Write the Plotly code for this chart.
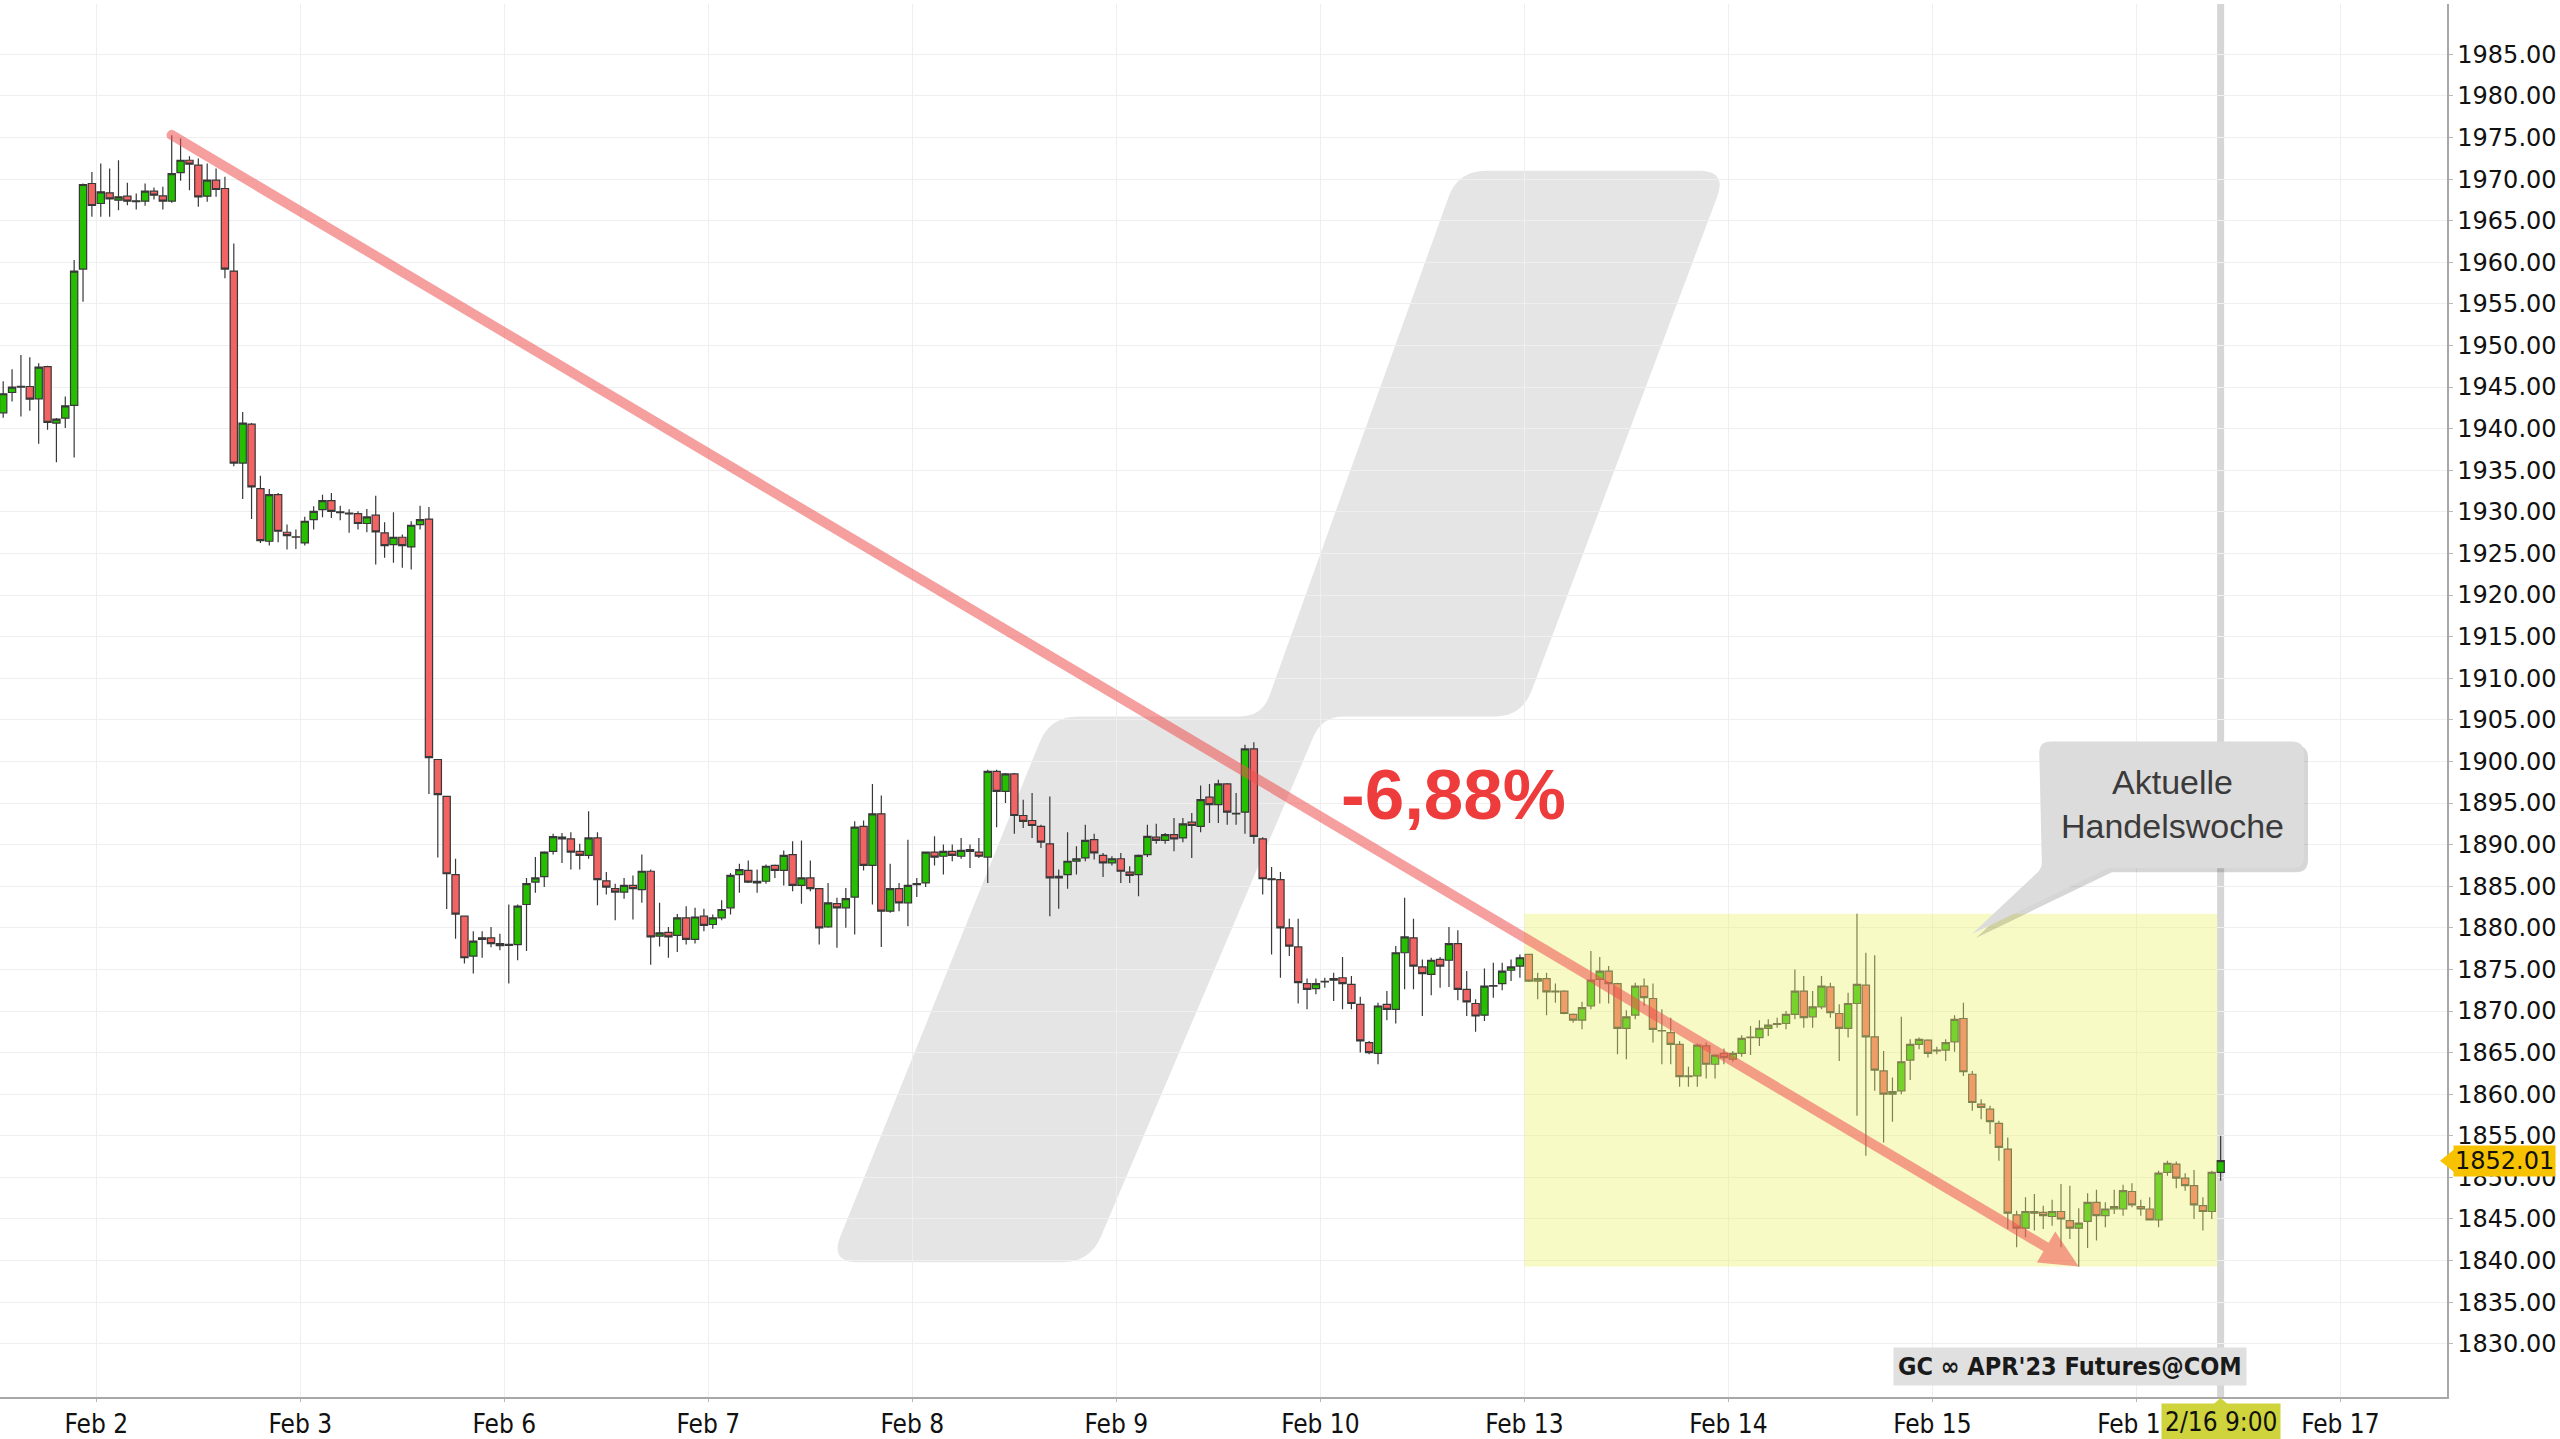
import math
import plotly.graph_objects as go

# ---------------- data: GC APR'23, hourly candles (CET) ----------------
DAY_LABELS = ["Feb 2", "Feb 3", "Feb 6", "Feb 7", "Feb 8", "Feb 9",
              "Feb 10", "Feb 13", "Feb 14", "Feb 15", "Feb 16", "Feb 17"]
HOURS_PER_SESSION = 23

# rows: [open, high, low, close]
feb01 = [  # 12:00 .. 22:00
    [1941.9, 1945.7, 1941.3, 1944.2], [1944.35, 1947.15, 1943.27, 1944.99],
    [1945.0, 1948.87, 1941.47, 1945.1], [1945.07, 1948.6, 1942.15, 1943.55],
    [1943.59, 1947.87, 1938.19, 1947.39], [1947.47, 1947.55, 1939.87, 1940.75],
    [1940.67, 1941.27, 1935.95, 1941.15], [1941.27, 1943.87, 1940.07, 1942.75],
    [1942.79, 1960.27, 1936.55, 1958.95], [1959.19, 1969.47, 1955.27, 1969.35],
    [1969.47, 1970.87, 1965.47, 1966.83]]
feb02 = [
    [1967.07, 1971.87, 1965.47, 1968.47], [1968.35, 1971.27, 1965.47, 1967.63],
    [1967.47, 1972.27, 1966.27, 1967.87], [1967.95, 1969.55, 1966.87, 1967.35],
    [1967.3, 1968.27, 1966.35, 1967.4], [1967.35, 1969.47, 1966.8, 1968.55],
    [1968.55, 1969.0, 1967.55, 1968.07], [1967.99, 1969.07, 1966.35, 1967.35],
    [1967.35, 1975.27, 1967.15, 1970.67], [1970.79, 1974.87, 1969.79, 1972.27],
    [1972.27, 1972.75, 1968.67, 1971.79], [1971.67, 1972.47, 1966.67, 1967.87],
    [1967.95, 1971.87, 1967.27, 1969.87], [1969.87, 1971.27, 1967.87, 1968.75],
    [1968.87, 1970.27, 1958.07, 1959.19], [1958.95, 1962.27, 1935.47, 1935.87],
    [1935.87, 1942.0, 1931.55, 1940.67], [1940.55, 1940.67, 1929.15, 1933.0],
    [1932.8, 1934.35, 1926.27, 1926.55], [1926.47, 1932.75, 1925.95, 1932.07],
    [1932.07, 1932.27, 1926.35, 1927.67], [1927.55, 1928.47, 1925.47, 1927.15],
    [1927.0, 1927.87, 1925.55, 1926.95]]
feb03 = [
    [1926.27, 1929.4, 1925.95, 1928.87], [1929.07, 1930.67, 1927.87, 1930.07],
    [1930.27, 1932.07, 1929.35, 1931.35], [1931.35, 1932.27, 1929.27, 1930.07],
    [1930.0, 1930.75, 1929.0, 1929.9], [1929.85, 1930.3, 1927.5, 1929.75],
    [1929.79, 1930.07, 1927.87, 1928.6], [1928.6, 1930.35, 1927.55, 1929.39],
    [1929.6, 1931.95, 1923.67, 1927.6], [1927.47, 1928.75, 1924.47, 1925.95],
    [1926.07, 1929.95, 1923.87, 1926.95], [1926.95, 1927.27, 1923.27, 1925.95],
    [1925.79, 1928.87, 1923.07, 1928.39], [1928.47, 1930.75, 1927.87, 1929.07],
    [1929.13, 1930.6, 1896.1, 1900.46], [1900.23, 1900.3, 1888.44, 1896.0],
    [1895.8, 1895.8, 1882.25, 1886.5], [1886.4, 1888.3, 1878.7, 1881.65],
    [1881.4, 1881.4, 1875.7, 1876.4], [1876.6, 1879.6, 1874.5, 1878.4],
    [1878.6, 1879.6, 1876.4, 1878.8], [1878.8, 1880.1, 1877.65, 1878.1],
    [1878.1, 1879.3, 1877.3, 1877.85]]
feb06 = [
    [1878.0, 1882.8, 1873.3, 1877.9], [1877.98, 1882.8, 1876.1, 1882.6],
    [1882.8, 1886.0, 1877.2, 1885.3], [1885.5, 1888.5, 1884.2, 1886.0],
    [1886.15, 1889.2, 1884.9, 1889.1], [1889.2, 1891.3, 1888.8, 1890.96],
    [1890.9, 1891.4, 1887.8, 1890.7], [1890.7, 1891.5, 1887.0, 1889.1],
    [1889.2, 1890.1, 1887.0, 1888.7], [1888.7, 1894.0, 1888.3, 1890.8],
    [1890.8, 1891.5, 1882.7, 1885.8], [1885.65, 1886.7, 1884.0, 1884.9],
    [1884.7, 1885.3, 1880.9, 1884.3], [1884.3, 1886.0, 1883.5, 1885.1],
    [1885.1, 1886.3, 1881.0, 1884.7], [1884.6, 1888.8, 1883.0, 1886.8],
    [1886.8, 1887.0, 1875.55, 1878.9], [1879.0, 1883.0, 1877.75, 1879.4],
    [1879.45, 1880.1, 1876.4, 1878.9], [1879.1, 1881.65, 1877.1, 1881.2],
    [1881.2, 1882.6, 1878.0, 1878.6], [1878.6, 1882.4, 1878.1, 1881.3],
    [1881.4, 1882.3, 1879.6, 1880.3]]
feb07 = [
    [1880.4, 1881.6, 1879.9, 1881.2], [1881.2, 1883.3, 1880.9, 1882.2],
    [1882.4, 1886.6, 1881.6, 1886.3], [1886.4, 1887.7, 1884.2, 1887.0],
    [1886.9, 1888.1, 1885.4, 1885.5], [1885.6, 1887.0, 1884.2, 1885.4],
    [1885.6, 1887.6, 1885.3, 1887.4], [1887.5, 1887.6, 1886.0, 1886.9],
    [1886.9, 1889.3, 1885.1, 1888.7], [1888.8, 1890.4, 1884.4, 1885.1],
    [1885.1, 1890.5, 1882.9, 1886.0], [1886.0, 1888.1, 1884.4, 1884.7],
    [1884.7, 1884.8, 1878.0, 1880.0], [1880.1, 1885.4, 1880.0, 1883.0],
    [1882.9, 1883.6, 1877.6, 1882.4], [1882.4, 1884.8, 1880.0, 1883.5],
    [1883.7, 1892.8, 1879.2, 1892.1], [1892.2, 1892.9, 1886.9, 1887.5],
    [1887.5, 1897.3, 1882.8, 1893.7], [1893.7, 1895.9, 1877.7, 1882.0],
    [1882.0, 1887.7, 1881.8, 1884.7], [1884.7, 1885.4, 1882.0, 1883.0],
    [1883.0, 1890.6, 1880.2, 1885.1]]
feb08 = [
    [1885.2, 1886.0, 1883.7, 1885.3], [1885.4, 1889.1, 1884.9, 1889.1],
    [1889.1, 1891.0, 1887.5, 1888.5], [1888.6, 1890.0, 1886.4, 1889.2],
    [1889.2, 1890.0, 1888.0, 1888.7], [1888.6, 1890.8, 1888.3, 1889.3],
    [1889.4, 1890.0, 1887.2, 1889.2], [1889.1, 1890.8, 1888.4, 1888.6],
    [1888.5, 1899.0, 1885.4, 1898.8], [1898.8, 1899.0, 1892.1, 1896.4],
    [1896.4, 1898.6, 1895.0, 1898.5], [1898.5, 1898.6, 1891.3, 1893.5],
    [1893.5, 1895.4, 1892.0, 1892.8], [1892.9, 1896.2, 1890.8, 1892.3],
    [1892.2, 1892.4, 1889.6, 1890.3], [1890.1, 1895.8, 1881.4, 1886.0],
    [1886.0, 1887.0, 1882.3, 1886.2], [1886.4, 1891.5, 1884.7, 1888.0],
    [1888.0, 1889.8, 1886.4, 1888.3], [1888.4, 1892.4, 1888.0, 1890.5],
    [1890.6, 1891.3, 1888.2, 1889.0], [1888.7, 1889.0, 1886.1, 1887.8],
    [1887.8, 1888.6, 1887.5, 1888.3]]
feb09 = [
    [1888.3, 1889.0, 1885.4, 1886.8], [1886.7, 1887.4, 1885.4, 1886.3],
    [1886.4, 1888.8, 1883.8, 1888.7], [1888.8, 1892.4, 1888.5, 1891.0],
    [1890.9, 1892.5, 1890.1, 1890.5], [1890.5, 1891.4, 1890.1, 1891.2],
    [1891.2, 1893.2, 1889.2, 1890.7], [1890.8, 1893.2, 1890.3, 1892.5],
    [1892.7, 1893.8, 1888.4, 1892.3], [1892.2, 1897.1, 1891.5, 1895.4],
    [1895.7, 1897.3, 1892.6, 1894.8], [1894.8, 1897.8, 1892.6, 1897.3],
    [1897.3, 1897.4, 1892.4, 1893.9], [1893.7, 1896.2, 1892.4, 1893.75],
    [1893.9, 1902.0, 1891.3, 1901.5], [1901.5, 1902.3, 1890.1, 1891.0],
    [1890.7, 1890.9, 1884.0, 1885.9], [1885.8, 1887.3, 1876.8, 1885.9],
    [1885.8, 1886.7, 1874.0, 1880.0], [1880.0, 1881.1, 1876.6, 1877.8],
    [1877.7, 1881.1, 1870.9, 1873.4], [1873.3, 1873.9, 1870.2, 1872.6],
    [1872.7, 1873.9, 1872.0, 1873.3]]
feb10 = [
    [1873.5, 1874.0, 1872.8, 1873.55], [1873.7, 1874.6, 1871.2, 1873.9],
    [1874.0, 1876.5, 1870.2, 1873.3], [1873.2, 1874.2, 1870.2, 1870.9],
    [1870.8, 1871.7, 1865.0, 1866.4], [1866.2, 1866.4, 1864.8, 1865.0],
    [1864.9, 1871.0, 1863.6, 1870.6], [1870.8, 1872.4, 1868.9, 1870.2],
    [1870.2, 1877.8, 1868.5, 1877.0], [1877.0, 1883.6, 1872.6, 1878.9],
    [1878.8, 1881.1, 1872.6, 1875.4], [1875.3, 1876.2, 1869.4, 1874.5],
    [1874.4, 1876.4, 1871.9, 1876.1], [1876.2, 1876.5, 1872.8, 1875.4],
    [1876.1, 1880.1, 1872.9, 1878.1], [1878.1, 1879.7, 1871.3, 1872.6],
    [1872.6, 1874.8, 1869.4, 1871.1], [1870.9, 1871.4, 1867.5, 1869.4],
    [1869.5, 1875.1, 1868.8, 1873.0], [1873.0, 1875.8, 1871.6, 1873.05],
    [1873.3, 1875.8, 1872.5, 1874.8], [1874.9, 1876.2, 1873.6, 1875.3],
    [1875.4, 1876.8, 1874.0, 1876.4]]
feb13 = [
    [1876.8, 1876.8, 1873.5, 1873.6], [1873.6, 1874.6, 1871.4, 1873.9],
    [1873.9, 1874.6, 1869.5, 1872.3], [1872.3, 1873.3, 1871.0, 1872.4],
    [1872.4, 1872.5, 1869.6, 1869.7], [1869.6, 1869.7, 1868.6, 1868.9],
    [1868.9, 1871.1, 1867.8, 1870.4], [1870.6, 1877.2, 1870.2, 1873.7],
    [1873.8, 1876.5, 1870.9, 1874.8], [1874.8, 1875.4, 1870.9, 1873.3],
    [1873.3, 1873.4, 1864.8, 1867.9], [1867.9, 1870.1, 1864.2, 1869.3],
    [1869.5, 1873.4, 1869.0, 1873.0], [1873.0, 1873.9, 1870.6, 1871.6],
    [1871.5, 1873.3, 1866.2, 1867.8], [1867.6, 1870.2, 1863.6, 1867.65],
    [1867.4, 1869.2, 1863.6, 1866.0], [1866.0, 1866.4, 1860.9, 1862.1],
    [1862.1, 1863.3, 1860.9, 1862.2], [1862.2, 1866.1, 1860.9, 1865.9],
    [1865.8, 1866.2, 1861.9, 1863.6], [1863.6, 1864.8, 1861.9, 1864.7],
    [1864.9, 1865.5, 1863.6, 1864.4]]
feb14 = [
    [1864.2, 1865.2, 1863.9, 1864.9], [1864.9, 1867.1, 1864.5, 1866.7],
    [1866.8, 1868.2, 1864.7, 1866.85], [1866.8, 1868.9, 1865.8, 1867.9],
    [1867.9, 1869.0, 1867.0, 1868.3], [1868.5, 1869.2, 1868.0, 1868.4],
    [1868.5, 1870.0, 1867.8, 1869.6], [1869.6, 1875.0, 1869.0, 1872.4],
    [1872.4, 1874.2, 1868.0, 1869.2], [1869.3, 1872.4, 1868.0, 1870.5],
    [1870.5, 1874.2, 1870.2, 1873.0], [1872.9, 1873.4, 1869.2, 1869.8],
    [1869.7, 1870.8, 1864.0, 1867.9], [1867.9, 1872.2, 1866.8, 1870.9],
    [1870.9, 1881.7, 1857.4, 1873.2], [1873.1, 1877.0, 1852.6, 1866.9],
    [1866.9, 1876.7, 1860.4, 1862.9], [1862.8, 1865.2, 1854.2, 1860.0],
    [1860.0, 1862.0, 1856.7, 1860.3], [1860.4, 1869.3, 1860.0, 1863.9],
    [1864.1, 1866.6, 1861.7, 1866.0], [1866.0, 1866.8, 1865.4, 1866.6],
    [1866.5, 1866.6, 1864.4, 1864.9]]
feb15 = [
    [1865.2, 1865.7, 1864.8, 1865.3], [1865.3, 1866.6, 1864.0, 1866.2],
    [1866.3, 1869.5, 1865.1, 1869.0], [1869.1, 1871.0, 1862.2, 1862.7],
    [1862.4, 1862.8, 1858.0, 1859.0], [1858.8, 1859.4, 1857.0, 1858.4],
    [1858.2, 1858.6, 1855.2, 1856.7], [1856.5, 1856.8, 1852.0, 1853.6],
    [1853.4, 1854.8, 1843.8, 1845.7], [1845.5, 1846.0, 1841.6, 1843.9],
    [1843.9, 1847.6, 1842.8, 1845.9], [1845.9, 1848.0, 1843.6, 1845.7],
    [1845.8, 1846.6, 1843.8, 1845.4], [1845.3, 1847.3, 1844.2, 1845.9],
    [1845.9, 1849.2, 1841.6, 1845.0], [1844.8, 1849.0, 1842.6, 1843.9],
    [1843.9, 1846.3, 1839.3, 1844.5], [1844.7, 1848.1, 1841.5, 1847.0],
    [1847.0, 1848.5, 1842.4, 1845.4], [1845.4, 1847.0, 1844.0, 1846.2],
    [1846.2, 1848.5, 1845.6, 1846.5], [1846.2, 1849.1, 1845.4, 1848.4],
    [1848.3, 1849.3, 1846.4, 1846.7]]
feb16 = [  # 00:00 .. 09:00
    [1846.5, 1847.3, 1845.4, 1846.2], [1846.2, 1847.6, 1844.9, 1844.9],
    [1844.9, 1850.8, 1844.0, 1850.5], [1850.6, 1852.0, 1850.2, 1851.7],
    [1851.6, 1851.9, 1848.7, 1849.9], [1849.9, 1850.5, 1848.4, 1849.0],
    [1849.0, 1850.9, 1845.0, 1846.7], [1846.6, 1847.6, 1843.6, 1845.9],
    [1845.9, 1850.8, 1845.0, 1850.6], [1850.6, 1855.0, 1849.6, 1852.01]]

# (session index, first hour, rows)
SESSIONS = [(-1, 12, feb01), (0, 0, feb02), (1, 0, feb03), (2, 0, feb06),
            (3, 0, feb07), (4, 0, feb08), (5, 0, feb09), (6, 0, feb10),
            (7, 0, feb13), (8, 0, feb14), (9, 0, feb15), (10, 0, feb16)]
WEEK_SESSIONS = [feb13, feb14, feb15, feb16]
CHANGE_TEXT = "-6,88%"
LAST_PRICE = feb16[-1][3]
TREND_START = (8.5, 1975.3)     # high Feb 2, 08:00
TREND_END = (223.5, 1839.3)     # low Feb 15, 16:00

# ---------------- build candle series ----------------
xs, op, hi, lo, cl = [], [], [], [], []
for d, h0, rows in SESSIONS:
    for i, (o, h, l, c) in enumerate(rows):
        xs.append(HOURS_PER_SESSION * d + h0 + i + 0.5)
        op.append(o); hi.append(h); lo.append(l); cl.append(c)
NOW_X = xs[-1]

# ---------------- geometry helpers ----------------
W, H = 2560, 1439
PL, PR, PT, PB = 0, 2447, 4, 1400
XR = (-10.86, 265.02)
YR = (1823.6, 1991.05)


def d2p(x, y):
    xp = PL + (x - XR[0]) / (XR[1] - XR[0]) * (PR - PL)
    yp = PB - (y - YR[0]) / (YR[1] - YR[0]) * (PB - PT)
    return xp, yp


def p2d(xp, yp):
    x = XR[0] + (xp - PL) / (PR - PL) * (XR[1] - XR[0])
    y = YR[0] + (PB - yp) / (PB - PT) * (YR[1] - YR[0])
    return x, y


def p2paper(xp, yp):
    return (xp - PL) / (PR - PL), (PB - yp) / (PB - PT)


def fmt(pt):
    return f"{pt[0]:.5f},{pt[1]:.5f}"


def rounded_path(pts, radii, conv):
    n = len(pts)
    segs = []
    for i in range(n):
        P, V, N = pts[i - 1], pts[i], pts[(i + 1) % n]
        r = radii[i]
        if r <= 0:
            segs.append((V, V, V, False))
            continue
        d1 = math.dist(V, P); d2 = math.dist(V, N)
        r1 = min(r, d1 / 2); r2 = min(r, d2 / 2)
        a = (V[0] + (P[0] - V[0]) * r1 / d1, V[1] + (P[1] - V[1]) * r1 / d1)
        b = (V[0] + (N[0] - V[0]) * r2 / d2, V[1] + (N[1] - V[1]) * r2 / d2)
        segs.append((a, V, b, True))
    path = "M" + fmt(conv(*segs[0][2]))
    for k in range(1, n + 1):
        a, V, b, rnd = segs[k % n]
        path += " L" + fmt(conv(*a))
        if rnd:
            path += " Q" + fmt(conv(*V)) + " " + fmt(conv(*b))
    return path + " Z"


shapes = []

# watermark logo (pixel outline -> paper)
logo = [(1458, 171), (1727, 171), (1522, 718), (1322, 718),
        (1090, 1265), (830, 1265), (1050, 718), (1262, 718)]
shapes.append(dict(type="path", xref="paper", yref="paper", layer="below",
                   path=rounded_path(logo, [28, 28, 28, 22, 28, 28, 28, 22], p2paper),
                   fillcolor="#e5e5e5", line=dict(width=0)))

# current-time vertical line
shapes.append(dict(type="line", xref="x", yref="paper", x0=NOW_X, x1=NOW_X,
                   y0=0, y1=1, layer="between",
                   line=dict(color="#d6d6d6", width=7)))

# current trading week box
wk_hi = max(r[1] for s in WEEK_SESSIONS for r in s)
wk_lo = min(r[2] for s in WEEK_SESSIONS for r in s)
shapes.append(dict(type="rect", xref="x", yref="y", layer="above",
                   x0=HOURS_PER_SESSION * 7, x1=NOW_X - 0.4, y0=wk_lo, y1=wk_hi,
                   fillcolor="rgba(238,242,110,0.40)", line=dict(width=0)))

# trend arrow (one filled polygon)
S = d2p(*TREND_START); T = d2p(*TREND_END)
L = math.dist(S, T)
u = ((T[0] - S[0]) / L, (T[1] - S[1]) / L)
nv = (-u[1], u[0])
hw, head_len, head_w = 5.0, 38, 18
B = (T[0] - head_len * u[0], T[1] - head_len * u[1])


def off(p, a, b):
    return (p[0] + a * nv[0] + b * u[0], p[1] + a * nv[1] + b * u[1])


P1 = off(S, hw, 0); P2 = off(B, hw, 0); P3 = off(B, head_w, 0)
P5 = off(B, -head_w, 0); P6 = off(B, -hw, 0); P7 = off(S, -hw, 0)
C1 = off(S, -hw, -hw); M0 = off(S, 0, -hw); C2 = off(S, hw, -hw)
arrow_path = ("M" + fmt(p2d(*P1)) + " L" + fmt(p2d(*P2)) + " L" + fmt(p2d(*P3))
              + " L" + fmt(p2d(*T)) + " L" + fmt(p2d(*P5)) + " L" + fmt(p2d(*P6))
              + " L" + fmt(p2d(*P7)) + " Q" + fmt(p2d(*C1)) + " " + fmt(p2d(*M0))
              + " Q" + fmt(p2d(*C2)) + " " + fmt(p2d(*P1)) + " Z")
shapes.append(dict(type="path", xref="x", yref="y", layer="above", path=arrow_path,
                   fillcolor="rgba(238,80,80,0.55)", line=dict(width=0)))

# callout bubble
bubble = [(2039, 743), (2304, 743), (2304, 870), (2108, 870), (1972, 936), (2042, 870)]
brad = [12, 12, 12, 0, 0, 6]
shadow = [(x + 4, y + 4) for x, y in bubble]
shapes.append(dict(type="path", xref="paper", yref="paper", layer="above",
                   path=rounded_path(shadow, brad, p2paper),
                   fillcolor="rgba(0,0,0,0.16)", line=dict(width=0)))
shapes.append(dict(type="path", xref="paper", yref="paper", layer="above",
                   path=rounded_path(bubble, brad, p2paper),
                   fillcolor="#dcdcdc", line=dict(width=0)))

# last price pointer
_, ly = d2p(0, LAST_PRICE)
tri = [(2440, ly), (2455, ly - 12), (2455, ly + 12)]
shapes.append(dict(type="path", xref="paper", yref="paper", layer="above",
                   path=rounded_path(tri, [0, 0, 0], p2paper),
                   fillcolor="#f7c300", line=dict(width=0)))
# time label pointer
nx, _ = d2p(NOW_X, 0)
tri2 = [(nx, PB + 1), (nx - 7, PB + 7), (nx + 7, PB + 7)]
shapes.append(dict(type="path", xref="paper", yref="paper", layer="above",
                   path=rounded_path(tri2, [0, 0, 0], p2paper),
                   fillcolor="#cfd43c", line=dict(width=0)))

# ---------------- annotations ----------------
COND = "DejaVu Sans Condensed, Liberation Sans Narrow, DejaVu Sans, sans-serif"
annotations = []
px, py = p2paper(1453, 796)
annotations.append(dict(xref="paper", yref="paper", x=px, y=py, showarrow=False,
                        xanchor="center", yanchor="middle",
                        text="<b>" + CHANGE_TEXT + "</b>",
                        font=dict(family="Liberation Sans, Arial, sans-serif",
                                  size=71, color="#ee3c3c")))
px, py = p2paper(2172, 806)
annotations.append(dict(xref="paper", yref="paper", x=px, y=py, showarrow=False,
                        xanchor="center", yanchor="middle",
                        text="Aktuelle<br>Handelswoche",
                        font=dict(family="Liberation Sans, Arial, sans-serif",
                                  size=34, color="#3b3b3b")))
px, py = p2paper(2070, 1369)
annotations.append(dict(xref="paper", yref="paper", x=px, y=py, showarrow=False,
                        xanchor="center", yanchor="middle",
                        text="<b>GC \u221e APR'23 Futures@COM</b>",
                        bgcolor="#e0e0e0", borderpad=4,
                        font=dict(family=COND, size=25, color="#1a1a1a")))
annotations.append(dict(xref="paper", yref="y", x=1, y=LAST_PRICE, xanchor="left",
                        yanchor="middle", xshift=6, showarrow=False,
                        text=f"{LAST_PRICE:.2f}",
                        bgcolor="#f7c300", borderpad=1,
                        font=dict(family="DejaVu Sans, Verdana, sans-serif",
                                  size=24, color="#111111")))
annotations.append(dict(xref="x", yref="paper", x=NOW_X, y=0, xanchor="center",
                        yanchor="top", yshift=-6, showarrow=False, text="2/16 9:00",
                        bgcolor="#cfd43c", borderpad=3,
                        font=dict(family=COND, size=26, color="#111111")))

# ---------------- figure ----------------
fig = go.Figure(go.Candlestick(
    x=xs, open=op, high=hi, low=lo, close=cl, hoverinfo="skip", showlegend=False,
    increasing=dict(fillcolor="#26bf00", line=dict(color="#383838", width=1.2)),
    decreasing=dict(fillcolor="#f26363", line=dict(color="#383838", width=1.2)),
))

fig.update_layout(
    width=W, height=H, autosize=False,
    margin=dict(l=PL, r=W - PR, t=PT, b=H - PB),
    paper_bgcolor="white", plot_bgcolor="white",
    boxgap=0.18, boxgroupgap=0,
    shapes=shapes, annotations=annotations,
    xaxis=dict(range=list(XR),
               tickvals=[HOURS_PER_SESSION * i for i in range(len(DAY_LABELS))],
               ticktext=DAY_LABELS, showgrid=True, gridcolor="#efefef", gridwidth=1,
               zeroline=False, showline=True, linecolor="#a8a8a8", linewidth=1.5,
               ticks="outside", ticklen=3, tickcolor="#b8b8b8",
               tickfont=dict(family=COND, size=26, color="#111111"),
               rangeslider=dict(visible=False), fixedrange=True),
    yaxis=dict(side="right", range=list(YR),
               tickvals=list(range(1830, 1986, 5)),
               ticktext=[f"{v:.2f}" for v in range(1830, 1986, 5)],
               showgrid=True, gridcolor="#efefef", gridwidth=1, zeroline=False,
               showline=True, linecolor="#a8a8a8", linewidth=1.5,
               ticks="outside", ticklen=4, tickcolor="#b8b8b8",
               tickfont=dict(family="DejaVu Sans, Verdana, sans-serif",
                             size=24, color="#111111"),
               fixedrange=True),
)

fig.write_html("out.html",
               config={"displayModeBar": False, "staticPlot": True},
               post_script="document.body.style.margin='0px';"
                           "document.body.style.overflow='hidden';")
